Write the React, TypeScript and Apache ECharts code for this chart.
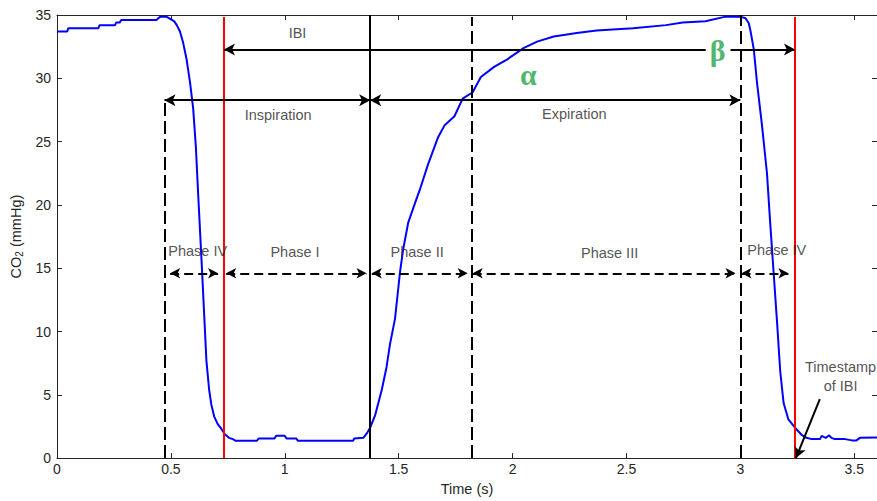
import React, { useEffect, useRef } from 'react';
import * as echarts from 'echarts';

// CO2 trace [time (s), CO2 (mmHg)]
const co2Trace: [number, number][] = [
  [0, 33.7], [0.045, 33.7], [0.05, 33.96], [0.182, 33.96], [0.187, 34.2], [0.255, 34.2],
  [0.26, 34.4], [0.275, 34.4], [0.282, 34.6], [0.437, 34.6], [0.445, 34.75], [0.455, 34.87],
  [0.48, 34.87], [0.497, 34.7], [0.515, 34.5], [0.526, 34.2], [0.54, 33.7], [0.554, 32.8],
  [0.569, 31.5], [0.584, 29.7], [0.598, 27.6], [0.61, 24.5], [0.62, 20.8], [0.635, 15.5],
  [0.642, 12.9], [0.656, 7.7], [0.668, 5.4], [0.678, 4.2], [0.69, 3.3], [0.705, 2.7],
  [0.722, 2.3], [0.736, 1.9], [0.755, 1.6], [0.772, 1.5], [0.785, 1.37], [0.878, 1.37],
  [0.885, 1.55], [0.955, 1.55], [0.962, 1.76], [1.0, 1.76], [1.008, 1.55], [1.05, 1.55],
  [1.058, 1.37], [1.3, 1.37], [1.305, 1.55], [1.345, 1.6], [1.36, 1.95], [1.375, 2.4],
  [1.397, 3.4], [1.426, 5.4], [1.447, 7.2], [1.462, 9.0], [1.484, 11.0], [1.506, 14.7],
  [1.52, 16.5], [1.542, 18.6], [1.571, 20.1], [1.593, 21.2], [1.629, 23.2], [1.672, 25.3],
  [1.702, 26.3], [1.745, 27.0], [1.781, 28.4], [1.825, 28.9], [1.861, 30.1], [1.919, 30.9],
  [1.977, 31.5], [2.05, 32.4], [2.108, 32.9], [2.181, 33.3], [2.282, 33.58], [2.369, 33.78],
  [2.529, 33.96], [2.674, 34.2], [2.747, 34.4], [2.847, 34.5], [2.935, 34.87], [3.0, 34.87],
  [3.023, 34.75], [3.037, 34.35], [3.044, 33.8], [3.059, 32.3], [3.073, 29.7], [3.095, 26.3],
  [3.117, 22.5], [3.131, 18.6], [3.146, 14.7], [3.161, 10.8], [3.175, 6.9], [3.19, 4.35],
  [3.211, 3.05], [3.24, 2.4], [3.269, 1.84], [3.29, 1.6], [3.313, 1.5], [3.35, 1.5],
  [3.357, 1.76], [3.375, 1.6], [3.39, 1.8], [3.4, 1.6], [3.415, 1.5], [3.46, 1.5],
  [3.49, 1.4], [3.51, 1.4], [3.525, 1.6], [3.6, 1.63],
];

// Axis settings
const xMin = 0;
const xMax = 3.6;
const xInterval = 0.5;
const yMin = 0;
const yMax = 35;
const yInterval = 5;

// Event markers (vertical lines)
const eventTimes = [0.472, 0.733, 1.375, 1.822, 3.0, 3.24];
const eventTops = [28.27, 34.85, 35, 34.85, 35, 34.85];
const eventKinds = ['dashed', 'red', 'solid', 'dashed', 'dashed', 'red'];

// Horizontal arrows
const ibiArrowY = 32.28;
const ibiRange = [0.733, 3.24];
const ibiGap = [2.848, 2.957];
const cycleArrowY = 28.27;
const inspirationRange = [0.472, 1.375];
const expirationRange = [1.375, 3.0];
const phaseArrowY = 14.6;
const phaseStarts = [0.497, 0.743, 1.382, 1.825, 3.005];
const phaseEnds = [0.707, 1.359, 1.803, 2.979, 3.211];

// Text annotations
const labelTexts = ['IBI', 'Inspiration', 'Expiration', 'Phase IV', 'Phase I', 'Phase II', 'Phase III', 'Phase IV', 'Timestamp\nof IBI'];
const labelTimes = [1.056, 0.971, 2.271, 0.618, 1.045, 1.581, 2.426, 3.16, 3.44];
const labelValues = [33.6, 27.1, 27.16, 16.37, 16.3, 16.3, 16.2, 16.43, 6.48];
const greekTexts = ['α', 'β'];
const greekTimes = [2.069, 2.9];
const greekValues = [30.3, 32.2];
const pointerFrom = [3.349, 4.66];
const pointerTo = [3.244, 0];

const FONT = 'Liberation Sans, Arial, Helvetica, sans-serif';
const AXIS = '#262626';

function styleFor(kind: string) {
  if (kind === 'red') return { color: '#ff0000', width: 2, type: 'solid' };
  if (kind === 'solid') return { color: '#000000', width: 2, type: 'solid' };
  return { color: '#000000', width: 2, type: [13, 5] };
}

function seg(a: number[], b: number[], s1: string, s2: string, lineStyle: any, size: number[]) {
  return [
    { coord: a, symbol: s1, symbolSize: size, lineStyle },
    { coord: b, symbol: s2, symbolSize: size, lineStyle },
  ];
}

export default function App() {
  const ref = useRef<HTMLDivElement>(null);
  useEffect(() => {
    if (!ref.current) return;
    const chart = echarts.init(ref.current, undefined, { renderer: 'svg' });
    const mainArrow = { color: '#000000', width: 2, type: 'solid' };
    const phaseArrow = { color: '#000000', width: 2, type: [9, 5] };
    const headMain = [9, 11];
    const headPhase = [8, 10];

    const lines: any[] = [];
    eventTimes.forEach((t, i) => {
      lines.push(seg([t, 0], [t, eventTops[i]], 'none', 'none', styleFor(eventKinds[i]), [1, 1]));
    });
    lines.push(seg([ibiRange[0], ibiArrowY], [ibiGap[0], ibiArrowY], 'arrow', 'none', mainArrow, headMain));
    lines.push(seg([ibiGap[1], ibiArrowY], [ibiRange[1], ibiArrowY], 'none', 'arrow', mainArrow, headMain));
    lines.push(seg([inspirationRange[0], cycleArrowY], [inspirationRange[1], cycleArrowY], 'arrow', 'arrow', mainArrow, headMain));
    lines.push(seg([expirationRange[0], cycleArrowY], [expirationRange[1], cycleArrowY], 'arrow', 'arrow', mainArrow, headMain));
    phaseStarts.forEach((s, i) => {
      lines.push(seg([s, phaseArrowY], [phaseEnds[i], phaseArrowY], 'arrow', 'arrow', phaseArrow, headPhase));
    });
    lines.push(seg(pointerFrom, pointerTo, 'none', 'arrow', mainArrow, headMain));

    const baseAxis = {
      type: 'value',
      axisLine: { show: true, onZero: false, lineStyle: { color: AXIS, width: 1 } },
      axisTick: { show: true, inside: true, length: 5, lineStyle: { color: AXIS, width: 1 } },
      splitLine: { show: false },
    };

    chart.setOption({
      animation: false,
      backgroundColor: '#ffffff',
      grid: { left: 56, right: -6, top: 15, bottom: 35, containLabel: false },
      xAxis: [
        {
          ...baseAxis, min: xMin, max: xMax, interval: xInterval, position: 'bottom',
          axisLabel: { color: AXIS, fontSize: 14, fontFamily: FONT, margin: 4, showMaxLabel: false },
          name: 'Time (s)', nameLocation: 'middle', nameGap: 18,
          nameTextStyle: { color: AXIS, fontSize: 14.5, fontFamily: FONT },
        },
        {
          ...baseAxis, min: xMin, max: xMax, interval: xInterval, position: 'top',
          axisLabel: { show: false },
        },
      ],
      yAxis: [
        {
          ...baseAxis, min: yMin, max: yMax, interval: yInterval, position: 'left',
          axisLabel: { color: AXIS, fontSize: 14, fontFamily: FONT, margin: 6 },
          name: '{a|CO}{s|2}{a| (mmHg)}', nameLocation: 'middle', nameGap: 30, nameRotate: 90,
          nameTextStyle: {
            color: AXIS, fontSize: 14.5, fontFamily: FONT,
            rich: {
              a: { color: AXIS, fontSize: 14.5, fontFamily: FONT, lineHeight: 18 },
              s: { color: AXIS, fontSize: 10, fontFamily: FONT, lineHeight: 10, verticalAlign: 'bottom' },
            },
          },
        },
        {
          ...baseAxis, min: yMin, max: yMax, interval: yInterval, position: 'right',
          axisLabel: { show: false },
        },
      ],
      series: [
        {
          type: 'line',
          data: co2Trace,
          showSymbol: false,
          symbol: 'none',
          lineStyle: { color: '#0000ff', width: 2 },
          silent: true,
          z: 3,
          markLine: {
            silent: true,
            animation: false,
            label: { show: false },
            emphasis: { disabled: true },
            data: lines,
          },
        },
        {
          type: 'scatter',
          silent: true,
          symbolSize: 1,
          itemStyle: { color: 'rgba(0,0,0,0)' },
          z: 5,
          label: {
            show: true, position: 'inside', color: '#262626', fontSize: 14.5, fontFamily: FONT,
            lineHeight: 19, align: 'center', verticalAlign: 'middle',
          },
          data: labelTexts.map((txt, i) => ({ value: [labelTimes[i], labelValues[i]], label: { formatter: txt } })),
        },
        {
          type: 'scatter',
          silent: true,
          symbolSize: 1,
          itemStyle: { color: 'rgba(0,0,0,0)' },
          z: 6,
          label: {
            show: true, position: 'inside', color: '#1fa34a', fontSize: 30, fontWeight: 'bold',
            fontFamily: 'Liberation Serif, DejaVu Serif, serif', align: 'center', verticalAlign: 'middle',
          },
          data: greekTexts.map((txt, i) => ({ value: [greekTimes[i], greekValues[i]], label: { formatter: txt } })),
        },
      ],
    });
    return () => chart.dispose();
  }, []);
  return (
    <div
      ref={ref}
      style={{ position: 'absolute', left: 0, top: 0, width: 877, height: 501, overflow: 'hidden', background: '#fff' }}
    />
  );
}
